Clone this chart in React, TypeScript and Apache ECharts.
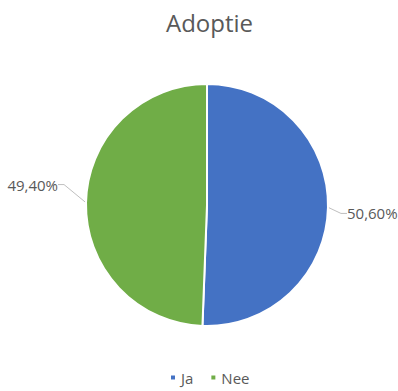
import React, { useEffect, useRef } from "react";
import * as echarts from "echarts";

const titleText = "Adoptie";
const categories = ["Ja", "Nee"];
const values = [50.6, 49.4];
const colors = ["#4472C4", "#70AD47"];

export default function App() {
  const ref = useRef<HTMLDivElement>(null);
  useEffect(() => {
    document.body.style.margin = "0";
    const chart = echarts.init(ref.current!, null, { renderer: "svg" });
    chart.setOption({
      animation: false,
      backgroundColor: "#ffffff",
      textStyle: { fontFamily: "Open Sans" },
      title: {
        text: titleText,
        left: 161,
        top: 5,
        textStyle: { fontFamily: "Open Sans", fontSize: 24, fontWeight: "normal", color: "#595959" },
      },
      legend: {
        top: 365,
        left: 164,
        icon: "rect",
        itemWidth: 6,
        itemHeight: 6,
        itemGap: 16,
        data: categories,
        textStyle: { fontFamily: "Open Sans", fontSize: 15, color: "#595959" },
      },
      series: [
        {
          type: "pie",
          center: [207, 205],
          radius: 121,
          startAngle: 90,
          clockwise: true,
          itemStyle: { borderColor: "#ffffff", borderWidth: 2 },
          label: {
            show: true,
            position: "outside",
            fontFamily: "Open Sans",
            fontSize: 15,
            color: "#595959",
            overflow: "none",
            formatter: (p: any) => p.value.toFixed(2).replace(".", ",") + "%",
          },
          labelLine: { show: true, length: 8, length2: 6, lineStyle: { color: "#bfbfbf", width: 1 } },
          labelLayout: (p: any) => {
            const r = p.labelRect;
            if (p.dataIndex === 1) {
              return { x: r.x + r.width - 9, y: r.y + r.height / 2 - 18, align: "right", verticalAlign: "middle" };
            }
            return { x: r.x, y: r.y + r.height / 2 + 6, align: "left", verticalAlign: "middle" };
          },
          data: categories.map((c, i) => ({ name: c, value: values[i], itemStyle: { color: colors[i] } })),
        },
      ],
    });
    return () => chart.dispose();
  }, []);
  return <div ref={ref} style={{ width: 398, height: 391 }} />;
}
